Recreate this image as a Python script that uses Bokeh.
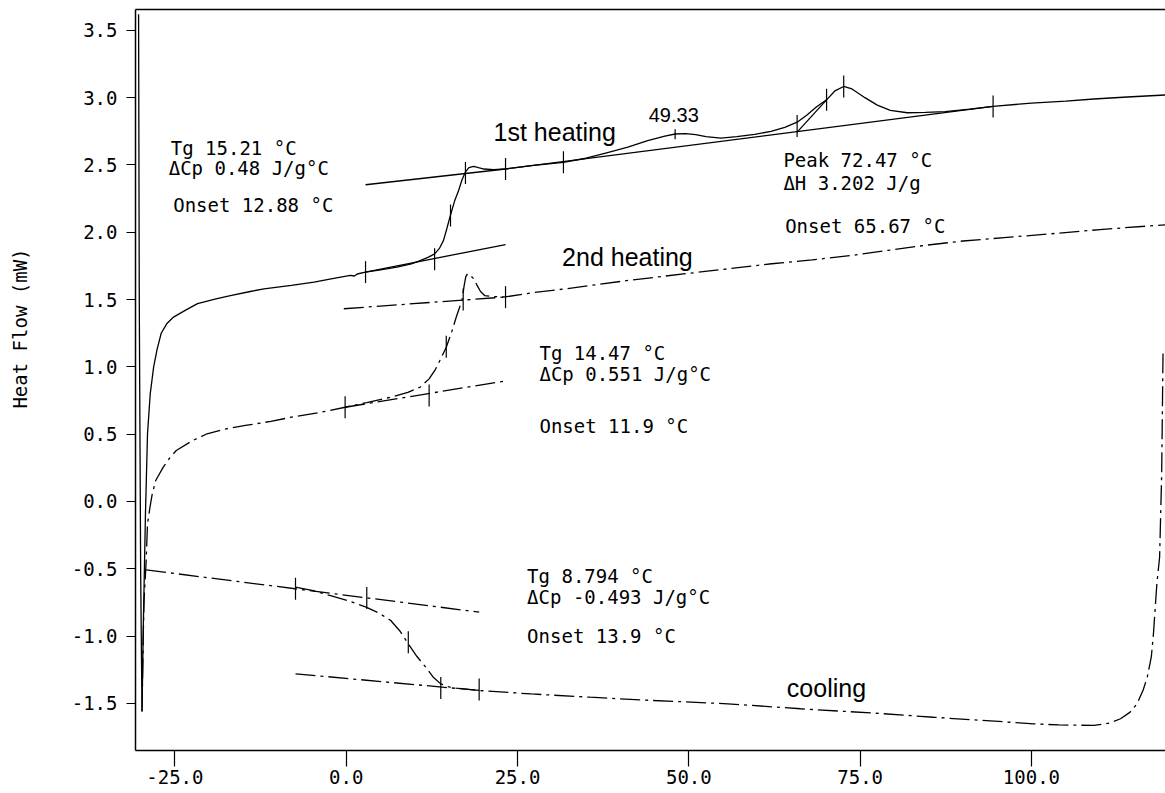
import numpy as np
from bokeh.plotting import figure
from bokeh.models import FixedTicker, PrintfTickFormatter, LinearAxis, Range1d
from bokeh.embed import file_html
from bokeh.resources import INLINE
from bokeh.core.properties import value

# ---------------- data ----------------
x_ticks = [-25, 0, 25, 50, 75, 100]
y_ticks = [-1.5, -1.0, -0.5, 0.0, 0.5, 1.0, 1.5, 2.0, 2.5, 3.0, 3.5]
y_title = "Heat Flow (mW)"

heat1_x = [-30.3, -30.2, -30.0, -29.8, -29.6, -29.3, -29.0, -28.6, -28.1, -27.6, -27.0, -26.2,
           -25.2, -23.5, -21.7, -19.0, -16.9, -14.0, -12.0, -8.0, -4.7, -2.0, 0.6, 1.2, 1.6,
           2.8, 5.0, 7.4, 9.5, 10.8, 12.0, 12.9, 13.6, 14.2, 14.7, 15.2, 15.8, 16.4, 16.9,
           17.4, 17.9, 18.6, 19.3, 20.1, 21.5, 23.25, 27.0, 31.7, 35.0, 38.0, 41.1, 44.0,
           46.5, 48.0, 49.5, 51.0, 52.5, 54.7, 57.0, 59.6, 62.0, 64.0, 65.8, 67.2, 68.6,
           70.1, 71.3, 72.6, 73.8, 75.7, 77.5, 79.4, 81.9, 84.5, 87.4, 91.0, 94.4, 100.0,
           105.0, 109.1, 114.0, 119.6]
heat1_y = [3.62, 1.5, -0.5, -1.56, -0.9, -0.1, 0.5, 0.8, 1.0, 1.13, 1.25, 1.32,
           1.37, 1.42, 1.47, 1.505, 1.53, 1.56, 1.58, 1.605, 1.63, 1.655, 1.679, 1.675, 1.69,
           1.704, 1.72, 1.741, 1.765, 1.79, 1.815, 1.84, 1.88, 1.94, 2.03, 2.125, 2.23, 2.31, 2.39,
           2.447, 2.48, 2.489, 2.48, 2.47, 2.465, 2.47, 2.495, 2.52, 2.55, 2.59, 2.632, 2.68,
           2.715, 2.73, 2.733, 2.725, 2.71, 2.70, 2.71, 2.727, 2.75, 2.78, 2.818, 2.87, 2.93,
           2.984, 3.05, 3.083, 3.065, 3.0, 2.945, 2.905, 2.888, 2.89, 2.897, 2.915, 2.935, 2.96,
           2.975, 2.99, 3.005, 3.02]

heat2_x = [-29.8, -29.6, -29.5, -29.2, -29.0, -28.6, -28.3, -27.8, -26.7, -25.8, -24.8, -22.5,
           -20.3, -17.5, -14.7, -11.0, -8.0, -4.0, -0.16, 3.0, 6.5, 9.0, 10.8, 12.1, 13.0,
           13.8, 14.6, 15.4, 16.05, 16.6, 16.9, 17.2, 17.45, 17.7, 18.0, 18.6, 19.1, 19.6,
           20.2, 21.5, 23.25, 27.0, 32.0, 41.1, 50.0, 56.0, 62.1, 68.0, 73.8, 79.0, 84.3,
           90.0, 96.0, 102.9, 110.0, 119.6]
heat2_y = [-1.56, -0.95, -0.735, -0.45, -0.166, -0.03, 0.057, 0.156, 0.255, 0.32, 0.379, 0.45,
           0.503, 0.54, 0.565, 0.595, 0.626, 0.66, 0.70, 0.735, 0.775, 0.81, 0.85, 0.911, 0.98,
           1.06, 1.146, 1.26, 1.369, 1.45, 1.493, 1.6, 1.67, 1.692, 1.685, 1.655, 1.605, 1.56,
           1.53, 1.522, 1.52, 1.55, 1.58, 1.642, 1.695, 1.73, 1.766, 1.795, 1.828, 1.865, 1.902,
           1.935, 1.96, 1.989, 2.02, 2.056]

cool_x = [-7.4, -5.0, -2.4, 0.5, 2.9, 4.8, 6.5, 7.8, 9.06, 10.3, 11.6, 12.7, 13.8, 15.0, 16.05,
          19.4, 27.0, 35.6, 43.7, 55.7, 66.3, 77.9, 85.7, 94.0, 100.3, 104.0, 109.1, 111.5,
          113.0, 114.4, 115.4, 116.3, 116.9, 117.5, 117.8, 118.3, 118.7, 119.0, 119.2]
cool_y = [-0.637, -0.66, -0.698, -0.74, -0.785, -0.83, -0.884, -0.96, -1.057, -1.15, -1.231,
          -1.305, -1.355, -1.378, -1.387, -1.404, -1.43, -1.454, -1.476, -1.503, -1.54, -1.575,
          -1.603, -1.63, -1.652, -1.66, -1.664, -1.645, -1.614, -1.565, -1.503, -1.40, -1.305,
          -1.15, -0.983, -0.611, -0.414, 0.2, 1.1]

# construction (tangent / baseline) lines: [x0, x1], [y0, y1]
h1_tan_x0 = [2.82, 2.82, 23.25, 65.8]
h1_tan_x1 = [23.25, 23.25, 94.4, 70.1]
h1_tan_y0 = [1.704, 2.353, 2.47, 2.744]
h1_tan_y1 = [1.909, 2.47, 2.935, 2.984]

h2_tan_x0 = [-0.16, -0.35]
h2_tan_x1 = [23.6, 23.25]
h2_tan_y0 = [0.70, 1.432]
h2_tan_y1 = [0.899, 1.519]

c_tan_x0 = [-29.2, -7.4]
c_tan_x1 = [19.4, 19.4]
c_tan_y0 = [-0.508, -1.28]
c_tan_y1 = [-0.822, -1.404]

# analysis tick marks on the curves
mark_x = [2.82, 12.9, 15.22, 17.4, 23.25, 31.7, 65.8, 70.1, 72.6, 94.4,
          -0.16, 12.1, 14.6, 17.07, 23.25,
          -7.4, 3.0, 9.06, 13.8, 19.4]
mark_y = [1.704, 1.80, 2.125, 2.44, 2.47, 2.52, 2.79, 2.984, 3.083, 2.935,
          0.70, 0.788, 1.15, 1.50, 1.518,
          -0.648, -0.717, -1.045, -1.386, -1.397]
small_mark_x = [48.0]
small_mark_y = [2.728]

ann_text = ["Tg 15.21 °C", "ΔCp 0.48 J/g°C", "Onset 12.88 °C",
            "Tg 14.47 °C", "ΔCp 0.551 J/g°C", "Onset 11.9 °C",
            "Tg 8.794 °C", "ΔCp -0.493 J/g°C", "Onset 13.9 °C",
            "Peak 72.47 °C", "ΔH 3.202 J/g", "Onset 65.67 °C"]
ann_x = [-25.6, -25.9, -25.25, 28.2, 28.2, 28.2, 26.4, 26.4, 26.4, 63.8, 63.8, 64.06]
ann_y = [2.626, 2.478, 2.206, 1.103, 0.944, 0.559, -0.55, -0.711, -1.003, 2.537, 2.368, 2.05]

run_text = ["1st heating", "2nd heating", "cooling"]
run_x = [21.5, 31.5, 64.3]
run_y = [2.744, 1.815, -1.386]

peak2_text = ["49.33"]
peak2_x = [47.8]
peak2_y = [2.871]

# ---------------- figure ----------------
MONO = "DejaVu Sans Mono"
p = figure(width=1165, height=793,
           x_range=Range1d(-30.75, 119.56), y_range=Range1d(-1.85, 3.655),
           output_backend="svg", toolbar_location=None,
           min_border_left=135, min_border_right=0, min_border_top=9, min_border_bottom=43)
p.background_fill_color = "white"
p.border_fill_color = "white"
p.outline_line_color = None
p.grid.visible = False

for ax in (p.xaxis[0], p.yaxis[0]):
    ax.axis_line_color = "black"
    ax.axis_line_width = 1.5
    ax.major_tick_line_color = "black"
    ax.major_tick_line_width = 1.2
    ax.minor_tick_line_color = None
    ax.major_tick_in = 0
    ax.major_label_text_font = MONO
    ax.major_label_text_font_size = "19px"
    ax.major_label_text_color = "black"
    ax.formatter = PrintfTickFormatter(format="%.1f")

p.xaxis.ticker = FixedTicker(ticks=x_ticks)
p.xaxis.major_tick_out = 16
p.xaxis.major_label_standoff = 3
p.yaxis.ticker = FixedTicker(ticks=y_ticks)
p.yaxis.major_tick_out = 9
p.yaxis.major_label_standoff = 9

# the title sits above the middle of the frame: pad its start so it is centred higher up
p.yaxis.axis_label = "\u00a0" * 9 + y_title
p.yaxis.axis_label_text_font = MONO
p.yaxis.axis_label_text_font_size = "19px"
p.yaxis.axis_label_text_font_style = "normal"
p.yaxis.axis_label_text_color = "black"
p.yaxis.axis_label_standoff = 38

top = LinearAxis(ticker=FixedTicker(ticks=[]), major_tick_out=0, major_tick_in=0,
                 major_label_text_font_size="0px", minor_tick_line_color=None,
                 axis_line_color="black", axis_line_width=1.5)
p.add_layout(top, "above")

DASHDOT = "20 5 3 5"
LW = 1.3

p.line(heat1_x, heat1_y, line_color="black", line_width=LW)
p.line(heat2_x, heat2_y, line_color="black", line_width=LW, line_dash=DASHDOT)
p.line(cool_x, cool_y, line_color="black", line_width=LW, line_dash=DASHDOT)

p.segment(x0=h1_tan_x0, y0=h1_tan_y0, x1=h1_tan_x1, y1=h1_tan_y1, line_color="black", line_width=LW)
p.segment(x0=h2_tan_x0, y0=h2_tan_y0, x1=h2_tan_x1, y1=h2_tan_y1, line_color="black",
          line_width=LW, line_dash=DASHDOT)
p.segment(x0=c_tan_x0, y0=c_tan_y0, x1=c_tan_x1, y1=c_tan_y1, line_color="black",
          line_width=LW, line_dash=DASHDOT)

p.scatter(mark_x, mark_y, marker="dash", angle=np.pi / 2, size=22, line_color="black", line_width=1.2)
p.scatter(small_mark_x, small_mark_y, marker="dash", angle=np.pi / 2, size=10, line_color="black", line_width=1.2)

p.text(x=ann_x, y=ann_y, text=ann_text, text_font=value(MONO), text_font_size="19px",
       text_align="left", text_baseline="middle", text_color="black")
p.text(x=run_x, y=run_y, text=run_text, text_font=value("Liberation Sans"), text_font_size="25px",
       text_align="left", text_baseline="middle", text_color="black")
p.text(x=peak2_x, y=peak2_y, text=peak2_text, text_font=value("Liberation Sans"), text_font_size="20px",
       text_align="center", text_baseline="middle", text_color="black")

open("out.html", "w").write(file_html(p, INLINE))
